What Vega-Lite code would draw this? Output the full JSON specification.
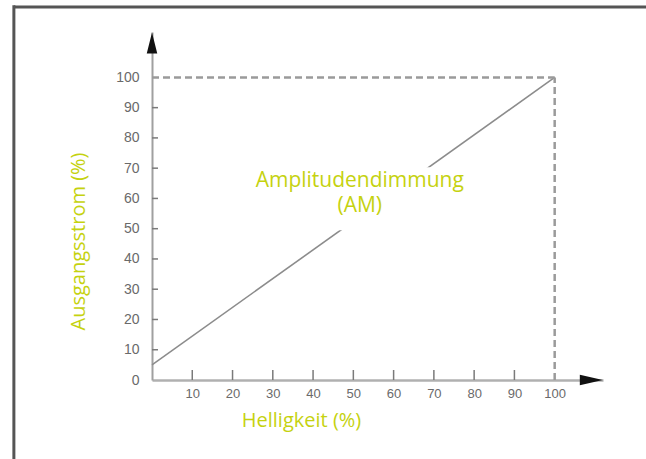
{
  "$schema": "https://vega.github.io/schema/vega-lite/v6.json",
  "width": 451,
  "height": 348,
  "autosize": {"type": "none"},
  "padding": {"left": 152, "top": 32, "right": 43, "bottom": 79},
  "background": "white",
  "config": {"view": {"stroke": null}},
  "resolve": {"axis": {"x": "independent", "y": "independent"}},
  "datasets": {
    "main": [{"Helligkeit": 0, "Ausgangsstrom": 5}, {"Helligkeit": 100, "Ausgangsstrom": 100}],
    "xticks": [{"xt": 10}, {"xt": 20}, {"xt": 30}, {"xt": 40}, {"xt": 50}, {"xt": 60}, {"xt": 70}, {"xt": 80}, {"xt": 90}],
    "yticks": [{"yt": 10}, {"yt": 20}, {"yt": 30}, {"yt": 40}, {"yt": 50}, {"yt": 60}, {"yt": 70}, {"yt": 80}, {"yt": 90}]
  },
  "data": {"name": "main"},
  "layer": [
    {
      "mark": {"type": "line", "color": "#8c8c8c", "strokeWidth": 1.6},
      "encoding": {
        "x": {"field": "Helligkeit", "type": "quantitative",
          "scale": {"domain": [0, 112], "nice": false, "zero": false},
          "axis": {"orient": "bottom", "values": [10, 20, 30, 40, 50, 60, 70, 80, 90, 100], "grid": false, "ticks": false, "labelOverlap": false,
            "domainColor": "#b0b0b0", "domainWidth": 2.5, "labelPadding": 7,
            "labelColor": "#6a6a6a", "labelFontSize": 13, "labelFont": "Liberation Sans", "labelFlush": false,
            "title": "Helligkeit (%)", "titleColor": "#c5d20f", "titleFontSize": 20, "titleFont": "Open Sans", "titleFontWeight": "normal",
            "titleX": 149, "titleY": 40, "titleBaseline": "middle", "titleAlign": "center"}},
        "y": {"field": "Ausgangsstrom", "type": "quantitative",
          "scale": {"domain": [0, 115], "nice": false, "zero": false},
          "axis": {"orient": "left", "values": [0, 10, 20, 30, 40, 50, 60, 70, 80, 90, 100], "grid": false, "ticks": false, "labelOverlap": false,
            "domainColor": "#a0a0a0", "domainWidth": 2, "labelPadding": 13,
            "labelColor": "#6a6a6a", "labelFontSize": 14, "labelFont": "Liberation Sans", "labelFlush": false,
            "title": "Ausgangsstrom (%)", "titleColor": "#c5d20f", "titleFontSize": 20, "titleFont": "Open Sans", "titleFontWeight": "normal",
            "titleX": -74, "titleY": 209, "titleBaseline": "middle", "titleAlign": "center", "titleAngle": -90}}
      }
    },
    {
      "data": {"name": "xticks"},
      "mark": {"type": "point", "shape": "M0,0L0,-2", "size": 100, "filled": false, "stroke": "#7a7a7a", "strokeWidth": 1.5, "opacity": 1},
      "encoding": {"x": {"field": "xt", "type": "quantitative", "axis": null}, "y": {"datum": 0, "type": "quantitative", "axis": null}}
    },
    {
      "data": {"name": "yticks"},
      "mark": {"type": "tick", "orient": "horizontal", "color": "#7a7a7a", "thickness": 1.5, "size": 6, "opacity": 1},
      "encoding": {"y": {"field": "yt", "type": "quantitative", "axis": null}, "x": {"datum": 0.75, "type": "quantitative", "axis": null}}
    },
    {
      "data": {"values": [{}]},
      "mark": {"type": "rule", "color": "#9a9a9a", "strokeWidth": 2.5, "strokeDash": [7, 4]},
      "encoding": {"x": {"datum": 0, "type": "quantitative", "axis": null}, "x2": {"datum": 100}, "y": {"datum": 100, "type": "quantitative", "axis": null}}
    },
    {
      "data": {"values": [{}]},
      "mark": {"type": "rule", "color": "#9a9a9a", "strokeWidth": 2.5, "strokeDash": [7, 4]},
      "encoding": {"x": {"datum": 100, "type": "quantitative", "axis": null}, "y": {"datum": 0, "type": "quantitative", "axis": null}, "y2": {"datum": 100}}
    },
    {
      "data": {"values": [{}]},
      "mark": {"type": "point", "shape": "M0,-1L0.5,1L-0.5,1Z", "size": 440, "filled": true, "color": "#111", "opacity": 1},
      "encoding": {"x": {"datum": 0, "type": "quantitative", "axis": null}, "y": {"datum": 111.4, "type": "quantitative", "axis": null}}
    },
    {
      "data": {"values": [{}]},
      "mark": {"type": "point", "shape": "M1,0L-1,0.45L-1,-0.45Z", "size": 529, "filled": true, "color": "#111", "opacity": 1},
      "encoding": {"x": {"datum": 109.1, "type": "quantitative", "axis": null}, "y": {"datum": 0, "type": "quantitative", "axis": null}}
    },
    {
      "data": {"values": [{}]},
      "mark": {"type": "rect", "color": "white", "opacity": 1},
      "encoding": {"x": {"datum": 23, "type": "quantitative", "axis": null}, "x2": {"datum": 80}, "y": {"datum": 49.5, "type": "quantitative", "axis": null}, "y2": {"datum": 70.3}}
    },
    {
      "data": {"values": [{"label": "Amplitudendimmung", "x": 51.6, "y": 65.8}, {"label": "(AM)", "x": 51.6, "y": 57.5}]},
      "mark": {"type": "text", "color": "#c5d20f", "fontSize": 21, "font": "Open Sans", "align": "center", "baseline": "middle"},
      "encoding": {"x": {"field": "x", "type": "quantitative", "axis": null}, "y": {"field": "y", "type": "quantitative", "axis": null}, "text": {"field": "label"}}
    },
    {
      "data": {"values": [{}]},
      "mark": {"type": "rule", "color": "#555", "strokeWidth": 3},
      "encoding": {"x": {"datum": -34.3, "type": "quantitative", "axis": null}, "x2": {"datum": 123}, "y": {"datum": 123.3, "type": "quantitative", "axis": null}}
    },
    {
      "data": {"values": [{}]},
      "mark": {"type": "rule", "color": "#555", "strokeWidth": 3},
      "encoding": {"x": {"datum": -34.3, "type": "quantitative", "axis": null}, "y": {"datum": -27, "type": "quantitative", "axis": null}, "y2": {"datum": 123.8}}
    }
  ]
}
